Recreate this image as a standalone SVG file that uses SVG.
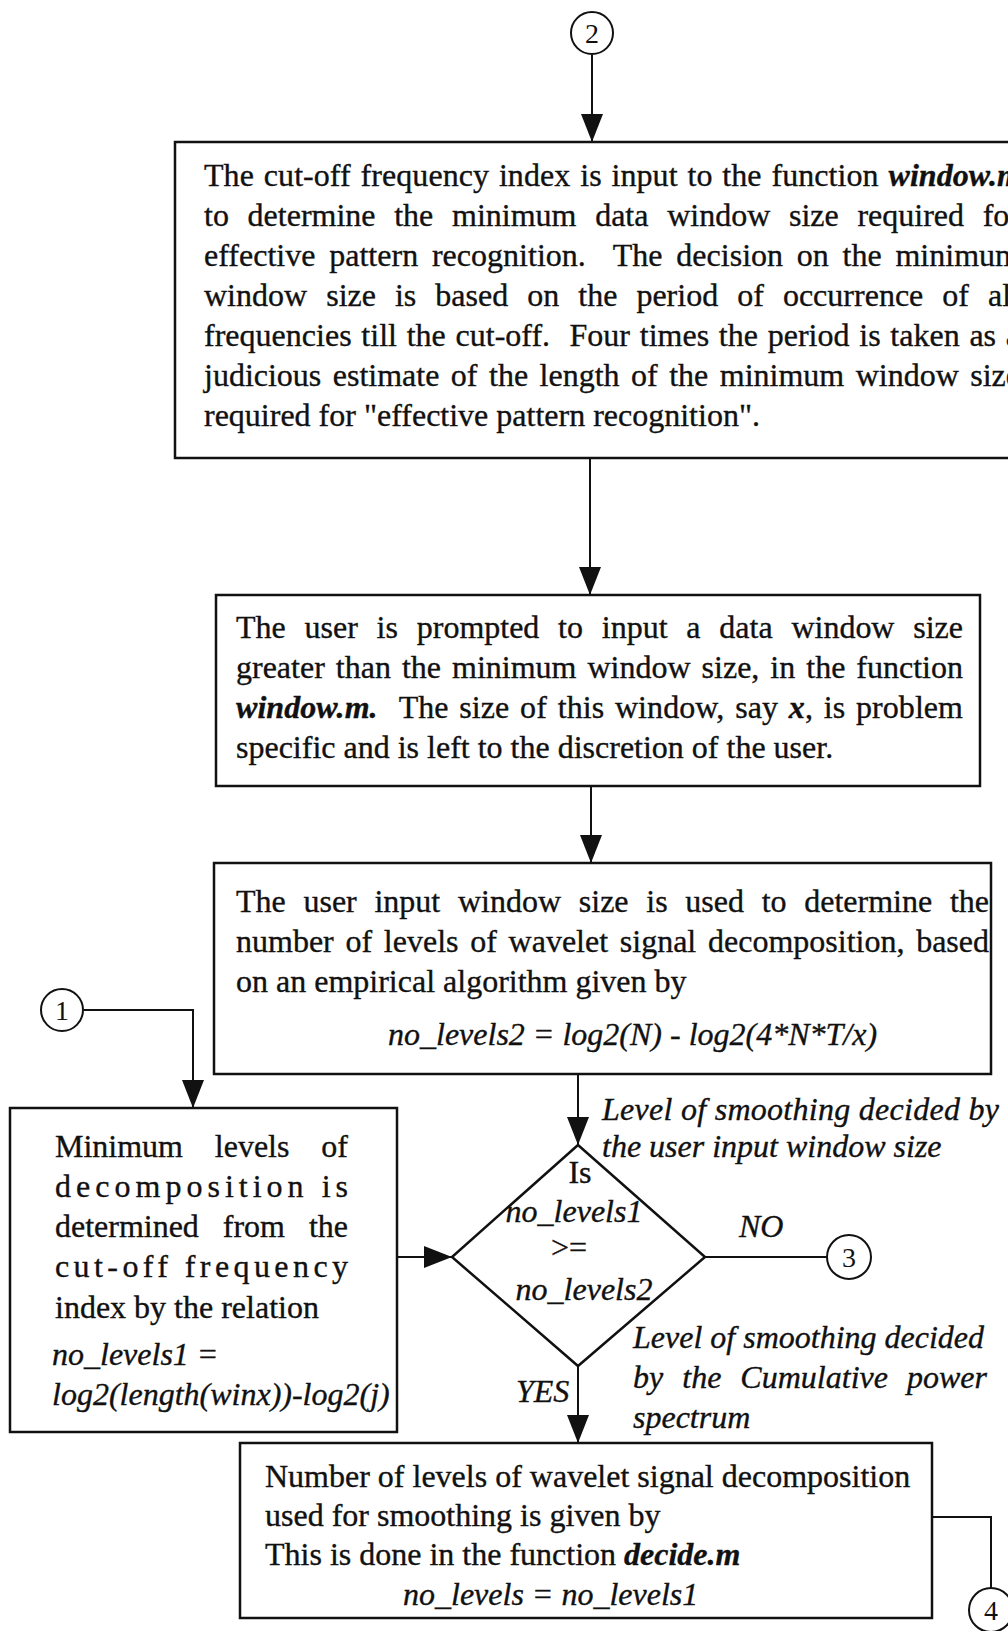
<svg xmlns="http://www.w3.org/2000/svg" width="1008" height="1631" viewBox="0 0 1008 1631">
  <style>
    .t { font-family: "Liberation Serif", "Times New Roman", serif; font-size: 32px; fill: #111; stroke: #111; stroke-width: 0.35; }
    .i { font-style: italic; }
    .bi { font-style: italic; font-weight: bold; }
    .box { fill: #fff; stroke: #111; stroke-width: 2.5; }
    .ln { fill: none; stroke: #111; stroke-width: 2; }
    .ring { fill: #fff; stroke: #111; stroke-width: 2; }
    .num { font-family: "Liberation Serif", "Times New Roman", serif; font-size: 28px; fill: #111; text-anchor: middle; }
    .mid { text-anchor: middle; }
  </style>
  <defs>
    <marker id="arrow" markerUnits="userSpaceOnUse" viewBox="0 0 28 22" refX="28" refY="11" markerWidth="28" markerHeight="22" orient="auto">
      <path d="M0,0 L28,11 L0,22 Z" fill="#111"/>
    </marker>
  </defs>
  <rect width="1008" height="1631" fill="#fff"/>

  <!-- connectors -->
  <g id="connectors">
    <line class="ln" x1="592" y1="55" x2="592" y2="142" marker-end="url(#arrow)"/>
    <line class="ln" x1="590" y1="458" x2="590" y2="595" marker-end="url(#arrow)"/>
    <line class="ln" x1="591" y1="786" x2="591" y2="863" marker-end="url(#arrow)"/>
    <line class="ln" x1="578" y1="1074" x2="578" y2="1145" marker-end="url(#arrow)"/>
    <polyline class="ln" points="84,1010 193,1010 193,1108" marker-end="url(#arrow)"/>
    <line class="ln" x1="397" y1="1257" x2="452" y2="1257" marker-end="url(#arrow)"/>
    <line class="ln" x1="705" y1="1257" x2="827" y2="1257"/>
    <line class="ln" x1="578" y1="1366" x2="578" y2="1443" marker-end="url(#arrow)"/>
    <polyline class="ln" points="932,1517 991,1517 991,1588"/>
    <text class="t i" x="739" y="1237">NO</text>
    <text class="t i" x="516" y="1402">YES</text>
    <text class="t i" x="602" y="1120" textLength="397" lengthAdjust="spacing">Level of smoothing decided by</text>
    <text class="t i" x="602" y="1157">the user input window size</text>
    <text class="t i" x="633" y="1348">Level of smoothing decided</text>
    <text class="t i" x="633" y="1388" word-spacing="11" textLength="354" lengthAdjust="spacing">by the Cumulative power</text>
    <text class="t i" x="633" y="1428">spectrum</text>
  </g>

  <!-- off-page connector 2 -->
  <g id="conn2">
    <circle class="ring" cx="592" cy="33" r="21"/>
    <text class="num" x="592" y="43">2</text>
  </g>

  <!-- minimum window size step -->
  <g id="minWindow">
    <rect class="box" x="175" y="142" width="890" height="316"/>
    <text class="t" x="204" y="186" word-spacing="1.8" textLength="818" lengthAdjust="spacing">The cut-off frequency index is input to the function <tspan class="bi">window.m</tspan></text>
    <text class="t" x="204" y="226" word-spacing="10.7" textLength="816" lengthAdjust="spacing">to determine the minimum data window size required for</text>
    <text class="t" x="204" y="266" word-spacing="5.7" textLength="816" lengthAdjust="spacing" xml:space="preserve">effective pattern recognition.  The decision on the minimum</text>
    <text class="t" x="204" y="306" word-spacing="11" textLength="816" lengthAdjust="spacing">window size is based on the period of occurrence of all</text>
    <text class="t" x="204" y="346" word-spacing="1.7" textLength="816" lengthAdjust="spacing" xml:space="preserve">frequencies till the cut-off.  Four times the period is taken as a</text>
    <text class="t" x="204" y="386" word-spacing="3.5" textLength="816" lengthAdjust="spacing">judicious estimate of the length of the minimum window size</text>
    <text class="t" x="204" y="426">required for "effective pattern recognition".</text>
  </g>

  <!-- user window size prompt -->
  <g id="userWindow">
    <rect class="box" x="216" y="595" width="764" height="191"/>
    <text class="t" x="236" y="638" word-spacing="10.8" textLength="727" lengthAdjust="spacing">The user is prompted to input a data window size</text>
    <text class="t" x="236" y="678" word-spacing="3" textLength="727" lengthAdjust="spacing">greater than the minimum window size, in the function</text>
    <text class="t" x="236" y="718" word-spacing="2.7" textLength="727" lengthAdjust="spacing" xml:space="preserve"><tspan class="bi">window.m.</tspan>  The size of this window, say <tspan class="bi">x</tspan>, is problem</text>
    <text class="t" x="236" y="758">specific and is left to the discretion of the user.</text>
  </g>

  <!-- levels from user window -->
  <g id="levels2">
    <rect class="box" x="214" y="863" width="777" height="211"/>
    <text class="t" x="236" y="912" word-spacing="9.7" textLength="753" lengthAdjust="spacing">The user input window size is used to determine the</text>
    <text class="t" x="236" y="952" word-spacing="3.7" textLength="753" lengthAdjust="spacing">number of levels of wavelet signal decomposition, based</text>
    <text class="t" x="236" y="992">on an empirical algorithm given by</text>
    <text class="t i" x="388" y="1045">no_levels2 = log2(N) - log2(4*N*T/x)</text>
  </g>

  <!-- off-page connector 1 -->
  <g id="conn1">
    <circle class="ring" cx="62" cy="1010" r="21"/>
    <text class="num" x="62" y="1020">1</text>
  </g>

  <!-- minimum levels from cut-off -->
  <g id="levels1">
    <rect class="box" x="10" y="1108" width="387" height="324"/>
    <text class="t" x="55" y="1157" word-spacing="24" textLength="293" lengthAdjust="spacing">Minimum levels of</text>
    <text class="t" x="55" y="1197" textLength="293" lengthAdjust="spacing">decomposition is</text>
    <text class="t" x="55" y="1237" word-spacing="16" textLength="293" lengthAdjust="spacing">determined from the</text>
    <text class="t" x="55" y="1277" textLength="293" lengthAdjust="spacing">cut-off frequency</text>
    <text class="t" x="55" y="1318">index by the relation</text>
    <text class="t i" x="52" y="1365">no_levels1 =</text>
    <text class="t i" x="52" y="1405">log2(length(winx))-log2(j)</text>
  </g>

  <!-- comparison decision -->
  <g id="decision">
    <polygon class="box" points="578,1145 705,1257 578,1366 452,1257"/>
    <text class="t mid" x="580" y="1183">Is</text>
    <text class="t i mid" x="574" y="1222">no_levels1</text>
    <text class="t mid" x="569" y="1258">&gt;=</text>
    <text class="t i mid" x="584" y="1300">no_levels2</text>
  </g>

  <!-- off-page connector 3 -->
  <g id="conn3">
    <circle class="ring" cx="849" cy="1257" r="22"/>
    <text class="num" x="849" y="1267">3</text>
  </g>

  <!-- chosen number of levels -->
  <g id="chosenLevels">
    <rect class="box" x="240" y="1443" width="692" height="175"/>
    <text class="t" x="265" y="1487">Number of levels of wavelet signal decomposition</text>
    <text class="t" x="265" y="1526">used for smoothing is given by</text>
    <text class="t" x="265" y="1565">This is done in the function <tspan class="bi">decide.m</tspan></text>
    <text class="t i" x="403" y="1605">no_levels = no_levels1</text>
  </g>

  <!-- off-page connector 4 -->
  <g id="conn4">
    <circle class="ring" cx="991" cy="1610" r="22"/>
    <text class="num" x="991" y="1620">4</text>
  </g>
</svg>
